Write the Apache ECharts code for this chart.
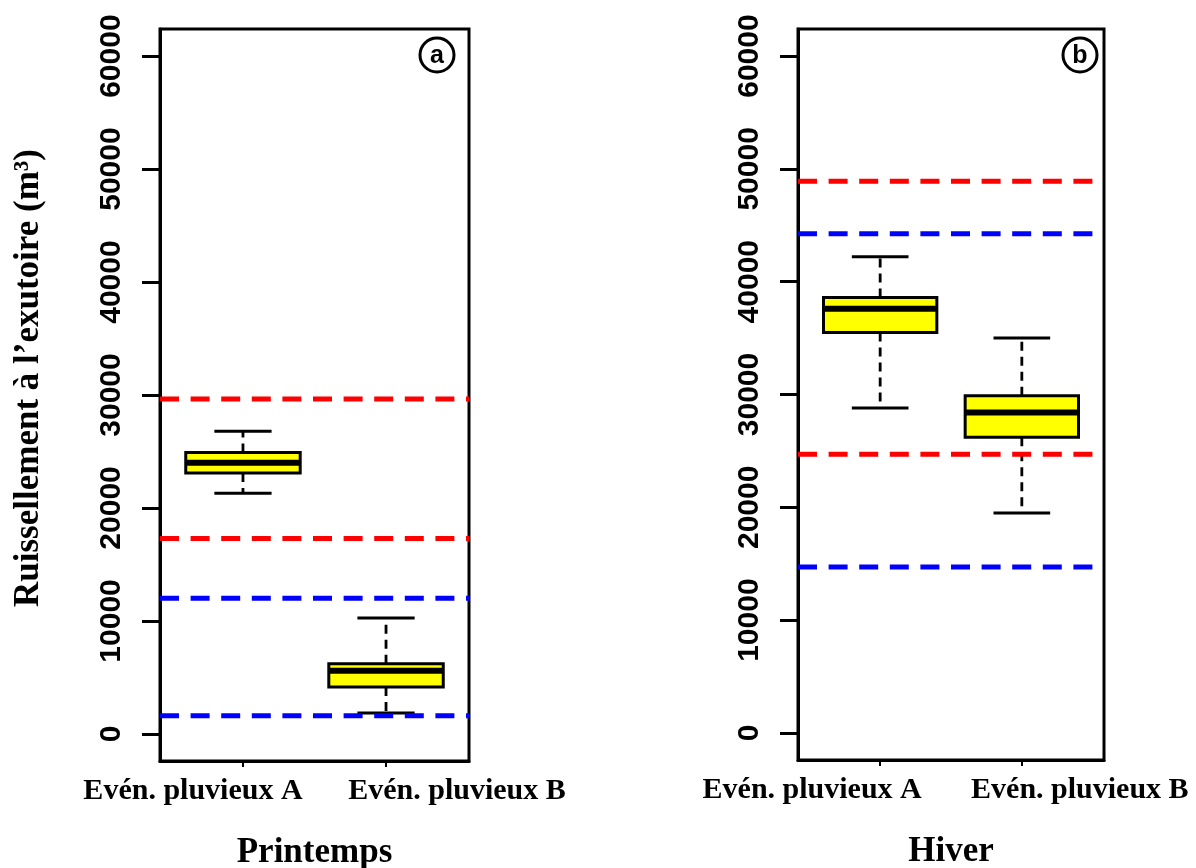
<!DOCTYPE html>
<html>
<head>
<meta charset="utf-8">
<script src="https://cdn.jsdelivr.net/npm/echarts@6/dist/echarts.min.js"></script>
<style>html,body{margin:0;padding:0;background:#fff}#c{width:1196px;height:868px}</style>
</head>
<body>
<div id="c"></div>
<script>
// ---- data ----
const categories = ['Evén. pluvieux A', 'Evén. pluvieux B'];
const panelTitles = ['Printemps', 'Hiver'];
const panelTags = ['a', 'b'];
const yTicks = [0, 10000, 20000, 30000, 40000, 50000, 60000];
// boxplot stats: [min, Q1, median, Q3, max]
const printempsA = [21300, 23100, 24000, 24900, 26800];
const printempsB = [1850, 4150, 5600, 6200, 10250];
const hiverA = [28800, 35500, 37600, 38600, 42200];
const hiverB = [19500, 26200, 28400, 29900, 35000];
// reference levels (dashed lines)
const printempsRed = [29650, 17300];
const printempsBlue = [12000, 1600];
const hiverRed = [48900, 24700];
const hiverBlue = [44250, 14700];

// ---- chart ----
const X_MIN = 0.42, X_MAX = 2.58;
const Y_MIN = -2400, Y_MAX = 62400;
const serif = 'Liberation Serif';
const sans = 'Liberation Sans';

function boxRender(params, api) {
  const x = api.value(0);
  const lo = api.value(1), q1 = api.value(2), med = api.value(3), q3 = api.value(4), hi = api.value(5);
  const hb = 0.4, hc = 0.2;
  const p = (xx, yy) => api.coord([xx, yy]);
  const a = p(x - hb, q3), b = p(x + hb, q1);
  const wu0 = p(x, q3), wu1 = p(x, hi), wl0 = p(x, q1), wl1 = p(x, lo);
  const cu0 = p(x - hc, hi), cu1 = p(x + hc, hi), cl0 = p(x - hc, lo), cl1 = p(x + hc, lo);
  const m0 = p(x - hb, med), m1 = p(x + hb, med);
  const dashStyle = {stroke: '#000', lineWidth: 2.8, lineDash: [9, 6]};
  const solid = {stroke: '#000', lineWidth: 3};
  return {
    type: 'group',
    children: [
      {type: 'line', shape: {x1: wu0[0], y1: wu0[1], x2: wu1[0], y2: wu1[1]}, style: dashStyle},
      {type: 'line', shape: {x1: wl0[0], y1: wl0[1], x2: wl1[0], y2: wl1[1]}, style: dashStyle},
      {type: 'line', shape: {x1: cu0[0], y1: cu0[1], x2: cu1[0], y2: cu1[1]}, style: solid},
      {type: 'line', shape: {x1: cl0[0], y1: cl0[1], x2: cl1[0], y2: cl1[1]}, style: solid},
      {type: 'rect', shape: {x: a[0], y: a[1], width: b[0] - a[0], height: b[1] - a[1]},
        style: {fill: '#ffff00', stroke: '#000', lineWidth: 3}},
      {type: 'line', shape: {x1: m0[0], y1: m0[1], x2: m1[0], y2: m1[1]}, style: {stroke: '#000', lineWidth: 6}}
    ]
  };
}

function refSeries(idx, values, color) {
  return values.map(v => ({
    type: 'line', xAxisIndex: idx, yAxisIndex: idx, z: 5,
    data: [[X_MIN, v], [X_MAX, v]], symbol: 'none', silent: true,
    lineStyle: {color: color, width: 5, type: [19, 11.6], cap: 'butt'}
  }));
}

const grids = [
  {left: 160, right: 727, top: 29, bottom: 107},
  {left: 798, right: 92, top: 29, bottom: 108}
];
const labelPad = [[100, 142], [136, 116]];

const xAxes = grids.map((g, i) => ({
  type: 'value', gridIndex: i, min: X_MIN, max: X_MAX,
  splitLine: {show: false},
  axisLine: {show: true, onZero: false, lineStyle: {color: '#000', width: 3}},
  axisTick: {show: true, customValues: [1, 2], length: 6, lineStyle: {color: '#000', width: 2}},
  axisLabel: {
    show: true, customValues: [1, 2], margin: 15,
    formatter: v => (v === 1 ? '{a|' + categories[0] + '}' : '{b|' + categories[1] + '}'),
    rich: {
      a: {fontFamily: serif, fontWeight: 'bold', fontSize: 30, color: '#000', padding: [0, labelPad[i][0], 0, 0]},
      b: {fontFamily: serif, fontWeight: 'bold', fontSize: 30, color: '#000', padding: [0, 0, 0, labelPad[i][1]]}
    }
  },
  name: panelTitles[i], nameLocation: 'middle', nameGap: 74,
  nameTextStyle: {fontFamily: serif, fontWeight: 'bold', fontSize: 35, color: '#000'}
}));

const yAxes = grids.map((g, i) => ({
  type: 'value', gridIndex: i, min: Y_MIN, max: Y_MAX,
  splitLine: {show: false},
  axisLine: {show: true, onZero: false, lineStyle: {color: '#000', width: 3}},
  axisTick: {show: true, customValues: yTicks, length: 18, lineStyle: {color: '#000', width: 3}},
  axisLabel: {show: true, customValues: yTicks, rotate: 90, margin: 33,
    formatter: v => String(v),
    fontFamily: sans, fontWeight: 'bold', fontSize: 30, color: '#000'},
  name: i === 0 ? 'Ruissellement à l’exutoire (m³)' : '',
  nameLocation: 'middle', nameRotate: 90, nameGap: 114,
  nameTextStyle: {fontFamily: serif, fontWeight: 'bold', fontSize: 35, color: '#000', padding: [0, 0, 0, 34]}
}));

const boxData = [[printempsA, printempsB], [hiverA, hiverB]];
const series = [];
boxData.forEach((pair, i) => {
  series.push({
    type: 'custom', xAxisIndex: i, yAxisIndex: i, z: 3,
    renderItem: boxRender,
    encode: {x: 0, y: [1, 2, 3, 4, 5]},
    data: pair.map((s, k) => [k + 1].concat(s))
  });
});
series.push(...refSeries(0, printempsRed, '#ff0000'));
series.push(...refSeries(0, printempsBlue, '#0000ff'));
series.push(...refSeries(1, hiverRed, '#ff0000'));
series.push(...refSeries(1, hiverBlue, '#0000ff'));

const tagPos = [[437, 55], [1080, 55]];
const graphic = [];
panelTags.forEach((t, i) => {
  graphic.push({type: 'circle', shape: {cx: tagPos[i][0], cy: tagPos[i][1], r: 17}, z: 10,
    style: {fill: '#fff', stroke: '#000', lineWidth: 3}});
  graphic.push({type: 'text', x: tagPos[i][0], y: tagPos[i][1] + 1, z: 11,
    style: {text: t, font: 'bold 25px "Liberation Sans"', fill: '#000', align: 'center', verticalAlign: 'middle'}});
});

const chart = echarts.init(document.getElementById('c'), null, {renderer: 'canvas'});
chart.setOption({
  animation: false,
  backgroundColor: '#fff',
  grid: grids.map(g => Object.assign({show: true, borderColor: '#000', borderWidth: 3, backgroundColor: 'transparent',
    containLabel: false, outerBoundsMode: 'none'}, g)),
  xAxis: xAxes,
  yAxis: yAxes,
  series: series,
  graphic: graphic
});
</script>
</body>
</html>
